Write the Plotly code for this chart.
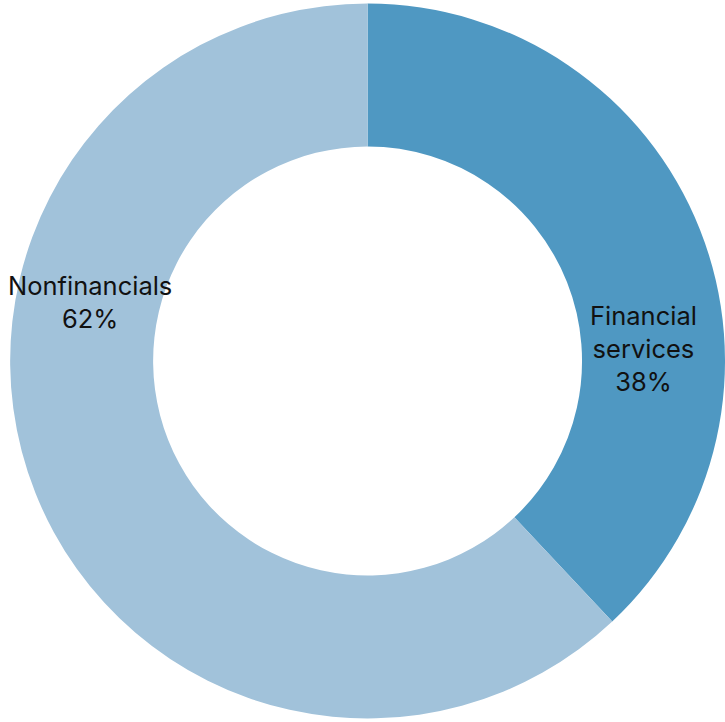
import plotly.graph_objects as go

# Share of total by sector
sectors = ["Financial services", "Nonfinancials"]
shares = [38, 62]
label_lines = [["Financial", "services"], ["Nonfinancials"]]
slice_colors = ["#4F98C2", "#A1C2DA"]

# Label anchor points (paper coordinates) for each sector
label_x = [0.887, 0.124]
label_y = [0.517, 0.582]

fig = go.Figure(
    go.Pie(
        labels=sectors,
        values=shares,
        hole=0.6,
        sort=False,
        direction="clockwise",
        rotation=0,
        marker=dict(colors=slice_colors, line=dict(width=0)),
        textinfo="none",
        hoverinfo="label+percent",
        domain=dict(x=[0.014, 1.0], y=[0.0, 1.0]),
    )
)

total = sum(shares)
for lines, v, x, y in zip(label_lines, shares, label_x, label_y):
    pct = round(100 * v / total)
    fig.add_annotation(
        x=x, y=y, xref="paper", yref="paper",
        text="<br>".join(lines + [f"{pct}%"]),
        showarrow=False,
        align="center",
        xanchor="center", yanchor="middle",
        font=dict(family="Inter", size=25.5, color="#111111"),
    )

fig.update_layout(
    width=725, height=722,
    margin=dict(l=0, r=0, t=0, b=0),
    paper_bgcolor="white",
    plot_bgcolor="white",
    showlegend=False,
)

fig.write_html("out.html")
